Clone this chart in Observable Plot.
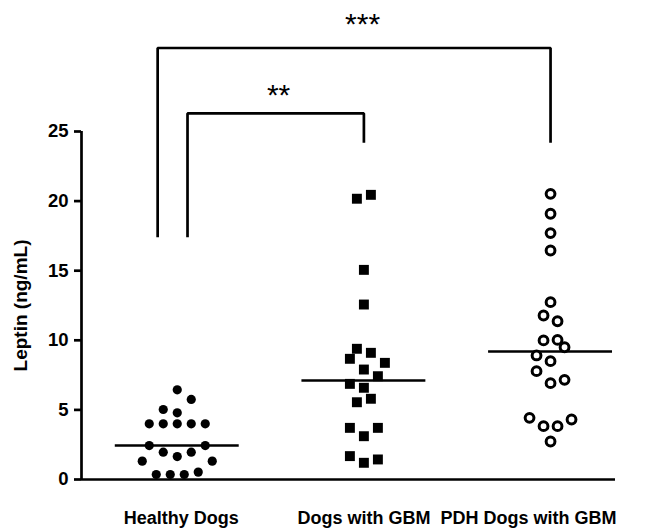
<!DOCTYPE html>
<html>
<head>
<meta charset="utf-8">
<script src="https://cdn.jsdelivr.net/npm/d3@7"></script>
<script src="https://cdn.jsdelivr.net/npm/@observablehq/plot@0.6"></script>
<style>
  html, body { margin: 0; padding: 0; background: #fff; }
  #chart { width: 651px; height: 530px; }
</style>
</head>
<body>
<div id="chart"></div>
<script>
// ---- Data ----
const groups = ["Healthy Dogs", "Dogs with GBM", "PDH Dogs with GBM"];

// Leptin (ng/mL) per dog, with its column slot in the scatter
const healthyValues = [6.44, 5.75, 5.03, 4.79, 4.0, 4.0, 4.0, 4.0, 4.0, 2.44, 2.44, 1.96, 1.96, 1.65, 1.32, 1.32, 0.36, 0.36, 0.36, 0.53];
const healthySlots  = [0, 1, -1, 0, -2, -1, 0, 1, 2, -2, 2, -1, 1, 0, -2.5, 2.5, -1.5, -0.5, 0.5, 1.5];

const gbmValues = [20.17, 20.45, 15.06, 12.57, 9.39, 9.10, 8.67, 8.38, 7.90, 7.42, 6.87, 6.59, 5.80, 5.55, 3.71, 3.71, 3.11, 1.68, 1.44, 1.20];
const gbmSlots  = [-0.5, 0.5, 0, 0, -0.5, 0.5, -1, 1.5, 0, 1, -1, 0, 0.5, -0.5, -1, 1, 0, -1, 1, 0];

const pdhValues = [20.52, 19.09, 17.70, 16.45, 12.74, 11.78, 11.37, 9.99, 10.03, 9.50, 8.91, 8.50, 7.78, 6.92, 7.16, 4.43, 3.83, 3.83, 4.31, 2.73];
const pdhSlots  = [0, 0, 0, 0, 0, -0.5, 0.5, -0.5, 0.5, 1, -1, 0, -1, 0, 1, -1.5, -0.5, 0.5, 1.5, 0];

const medians = [2.44, 7.11, 9.20];
const yTicks = [0, 5, 10, 15, 20, 25];

// significance brackets: leg bottoms and top (ng/mL), group positions
const bracketOuterX = [-0.105, -0.105, 2, 2];
const bracketOuterY = [17.4, 31.0, 31.0, 24.2];
const bracketInnerX = [0.055, 0.055, 1, 1];
const bracketInnerY = [17.4, 26.3, 26.3, 24.2];
const starLabels = ["***", "**"];
const starX = [0.993, 0.543];
const starY = [32.0, 26.9];

// ---- Layout constants ----
const SLOT = 0.075;      // one scatter column in x units
const HALF = 0.332;      // half-width of median line
const X_DOMAIN = [-0.513, 2.348];
const FONT = "'Liberation Sans', Arial, Helvetica, sans-serif";

const points = [];
healthyValues.forEach((v, i) => points.push({g: 0, x: 0 + healthySlots[i] * SLOT, y: v}));
gbmValues.forEach((v, i) => points.push({g: 1, x: 1 + gbmSlots[i] * SLOT, y: v}));
pdhValues.forEach((v, i) => points.push({g: 2, x: 2 + pdhSlots[i] * SLOT, y: v}));

const medianData = medians.map((m, g) => ({g, m}));
const outer = bracketOuterX.map((x, i) => ({x, y: bracketOuterY[i]}));
const inner = bracketInnerX.map((x, i) => ({x, y: bracketInnerY[i]}));
const stars = starLabels.map((t, i) => ({t, x: starX[i], y: starY[i]}));
const labelData = groups.map((name, g) => ({name, g}));

const chart = Plot.plot({
  width: 651,
  height: 530,
  marginTop: 131,
  marginBottom: 51,
  marginLeft: 81,
  marginRight: 36,
  style: {fontFamily: FONT, background: "white", color: "black"},
  x: {domain: X_DOMAIN, axis: null},
  y: {domain: [0, 25], axis: null},
  marks: [
    Plot.axisY(yTicks, {tickSize: 7, tickPadding: 6, fontSize: 18.5, fontWeight: "bold", strokeWidth: 2.7, label: null}),
    Plot.ruleX([X_DOMAIN[0]], {strokeWidth: 2.7}),
    Plot.ruleY([0], {strokeWidth: 2.7}),
    Plot.ruleY(medianData, {y: "m", x1: d => d.g - HALF, x2: d => d.g + HALF, strokeWidth: 2.4}),
    Plot.dot(points.filter(d => d.g === 0), {x: "x", y: "y", r: 4.6, fill: "black", stroke: "none"}),
    Plot.dot(points.filter(d => d.g === 1), {x: "x", y: "y", r: 5.6, symbol: "square", fill: "black", stroke: "none"}),
    Plot.dot(points.filter(d => d.g === 2), {x: "x", y: "y", r: 4.4, fill: "white", stroke: "black", strokeWidth: 3}),
    Plot.line(outer, {x: "x", y: "y", strokeWidth: 2.7, strokeLinejoin: "miter", strokeLinecap: "butt"}),
    Plot.line(inner, {x: "x", y: "y", strokeWidth: 2.7, strokeLinejoin: "miter", strokeLinecap: "butt"}),
    Plot.text(stars, {x: "x", y: "y", text: "t", fontSize: 30, lineAnchor: "bottom", fill: "black"}),
    Plot.text(labelData.filter(d => d.g === 0), {x: "g", text: "name", frameAnchor: "bottom", dy: 44, dx: 4, fontSize: 18, fontWeight: "bold", fill: "black"}),
    Plot.text(labelData.filter(d => d.g === 1), {x: "g", text: "name", frameAnchor: "bottom", dy: 44, fontSize: 18, fontWeight: "bold", fill: "black"}),
    Plot.text(labelData.filter(d => d.g === 2), {x: "g", text: "name", frameAnchor: "bottom", dy: 44, dx: -22, fontSize: 18, fontWeight: "bold", fill: "black"}),
    Plot.text(["Leptin (ng/mL)"], {frameAnchor: "left", textAnchor: "middle", dx: -61, rotate: -90, fontSize: 19, fontWeight: "bold", fill: "black"})
  ]
});
document.getElementById("chart").append(chart);
</script>
</body>
</html>
